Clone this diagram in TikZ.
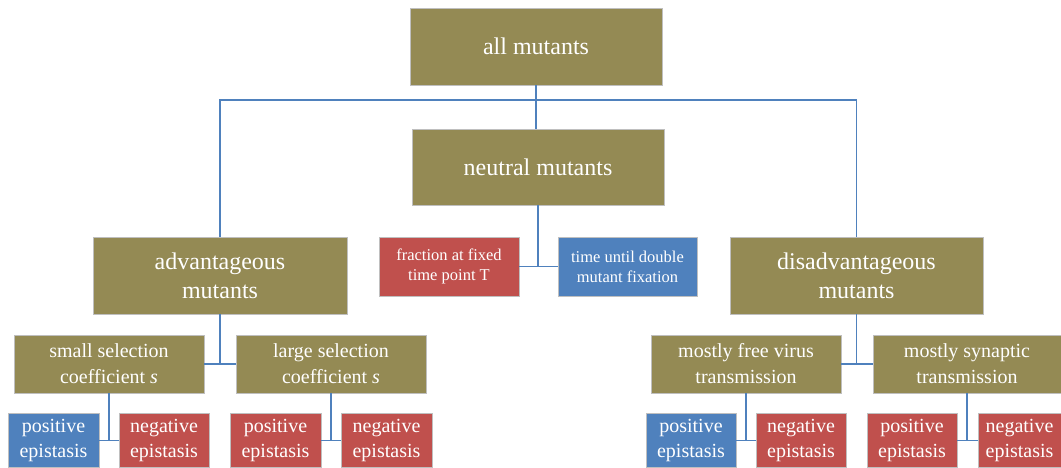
\documentclass[tikz,border=0pt]{standalone}
\usepackage{fontspec}
\setmainfont{Liberation Serif}
\definecolor{olivebox}{HTML}{948A54}
\definecolor{redbox}{HTML}{C0504D}
\definecolor{bluebox}{HTML}{4F81BD}
\definecolor{linkcol}{HTML}{4F81BD}
\tikzset{
  box/.style={draw=white!75!black, line width=0.4pt, text=white, align=center, inner sep=0pt, anchor=center},
  bigbox/.style={box, fill=olivebox, font=\fontsize{24}{29}\selectfont},
  midbox/.style={box, fill=olivebox, minimum width=190, minimum height=58, font=\fontsize{20}{26}\selectfont},
  leafbox/.style={box, minimum height=54, font=\fontsize{20}{25}\selectfont},
  redleaf/.style={leafbox, fill=redbox},
  blueleaf/.style={leafbox, fill=bluebox},
  smallbox/.style={box, minimum width=140, minimum height=59, font=\fontsize{16.5}{20}\selectfont},
  link/.style={draw=linkcol, line width=1.3pt},
}
\begin{document}
\begin{tikzpicture}[x=1pt,y=-1pt]
\useasboundingbox (0,0) rectangle (1061,468);
% level 0 and 1
\node[bigbox, minimum width=252, minimum height=77] (all) at (536,46.5) {all mutants};
\node[bigbox, minimum width=252, minimum height=76] (neutral) at (538,167) {neutral mutants};
\node[bigbox, minimum width=254, minimum height=77] (adv) at (220,275.5) {advantageous\\mutants};
\node[bigbox, minimum width=253, minimum height=77] (dis) at (856.5,275.5) {disadvantageous\\mutants};
% neutral children
\node[smallbox, fill=redbox] (frac) at (449,266.5) {fraction at fixed\\time point T};
\node[smallbox, fill=bluebox, minimum width=139] (time) at (627.5,266.5) {time until double\\mutant fixation};
% level 2
\node[midbox] (small) at (109,364) {small selection\\coefficient \textit{s}};
\node[midbox] (large) at (331,364) {large selection\\coefficient \textit{s}};
\node[midbox] (free) at (746,364) {mostly free virus\\transmission};
\node[midbox, minimum width=188] (syn) at (967,364) {mostly synaptic\\transmission};
% leaves
\node[blueleaf, minimum width=91] (p1) at (53.5,440.5) {positive\\epistasis};
\node[redleaf, minimum width=90] (n1) at (164,440.5) {negative\\epistasis};
\node[redleaf, minimum width=91] (p2) at (275.5,440.5) {positive\\epistasis};
\node[redleaf, minimum width=91] (n2) at (386.5,440.5) {negative\\epistasis};
\node[blueleaf, minimum width=90] (p3) at (691,440.5) {positive\\epistasis};
\node[redleaf, minimum width=90] (n3) at (801,440.5) {negative\\epistasis};
\node[redleaf, minimum width=90] (p4) at (912,440.5) {positive\\epistasis};
\node[redleaf, minimum width=83] (n4) at (1019.5,440.5) {negative\\epistasis};
% connectors
\coordinate (hub) at (536,100);
\draw[link] (all.south) -- (all.south |- neutral.north);
\draw[link] (adv.north) |- (hub) -| (dis.north);
\draw[link] (neutral.south) -- (neutral.south |- frac.east);
\draw[link] (frac.east) -- (time.west);
\draw[link] (adv.south) -- (adv.south |- small.east);
\draw[link] (small.east) -- (large.west);
\draw[link] (dis.south) -- (dis.south |- free.east);
\draw[link] (free.east) -- (syn.west);
\draw[link] (small.south) -- (small.south |- p1.east);
\draw[link] (p1.east) -- (n1.west);
\draw[link] (large.south) -- (large.south |- p2.east);
\draw[link] (p2.east) -- (n2.west);
\draw[link] (free.south) -- (free.south |- p3.east);
\draw[link] (p3.east) -- (n3.west);
\draw[link] (syn.south) -- (syn.south |- p4.east);
\draw[link] (p4.east) -- (n4.west);
\end{tikzpicture}
\end{document}
